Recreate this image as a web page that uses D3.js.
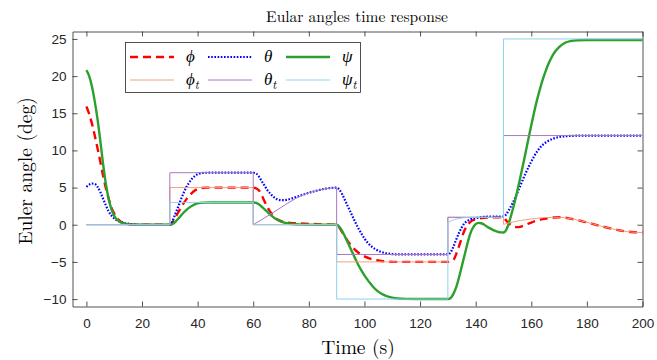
<!DOCTYPE html>
<html><head><meta charset="utf-8">
<script src="https://cdn.jsdelivr.net/npm/d3@7"></script>
<style>
html,body{margin:0;padding:0;background:#fff;}
svg{display:block;}
</style></head>
<body>
<svg id="chart" width="657" height="360"></svg>
<script>
// ---------- data ----------
const xTicks = [0,20,40,60,80,100,120,140,160,180,200];
const yTicks = [-10,-5,0,5,10,15,20,25];

const seriesNames = ["\u03d5","\u03b8","\u03c8"];

// psi (actual, green)
const psiTime = [0,1,2,3,4,5,6,7,8,9,10,11,12,14,17,20,30,
  31,32,33,34,35,36,37,38,39,40,42,45,60,
  61,62,63,64,65,66,67,68,69,70,72,75,78,90,
  91,92,93,94,95,96,97,98,99,100,101,102,103,104,105,106,108,110,112,115,130,
  131,132,133,134,135,136,137,138,139,140,141,142,143,144,145,146,147,148,149,150,
  151,152,153,154,155,156,157,158,159,160,161,162,163,164,165,166,167,168,170,172,174,177,180,200];
const psiVals = [20.8,20.0,18.6,16.6,14.2,11.3,8.2,5.5,3.5,2.1,1.2,0.7,0.4,0.12,0.02,0,0,
  0.1,0.4,0.8,1.25,1.65,2.0,2.3,2.55,2.75,2.88,2.97,3.0,3.0,
  2.95,2.75,2.45,2.1,1.75,1.4,1.1,0.8,0.6,0.42,0.2,0.06,0.01,0,
  -0.3,-0.85,-1.6,-2.4,-3.2,-4.0,-4.8,-5.55,-6.2,-6.8,-7.35,-7.85,-8.3,-8.7,-9.0,-9.25,-9.6,-9.8,-9.92,-9.98,-10,
  -9.85,-9.3,-8.4,-7.1,-5.6,-4.1,-2.6,-1.25,-0.4,0.08,0.25,0.2,0.02,-0.25,-0.45,-0.65,-0.82,-0.95,-1.03,-1.05,
  -0.7,0.3,1.6,3.0,4.6,6.3,8.0,9.8,11.6,13.4,15.1,16.7,18.1,19.4,20.5,21.5,22.3,23.0,23.9,24.45,24.7,24.82,24.85,24.85];

// phi (actual, red dashed)
const phiTime = [0,1,2,3,4,5,6,7,8,9,10,11,12,13,15,18,30,
  31,32,33,34,35,36,37,38,39,40,41,43,60,
  61,62,63,64,65,66,67,68,69,70,72,75,80,85,90,
  91,92,93,94,95,96,97,98,99,100,102,104,106,108,112,130,
  131,132,133,134,135,136,137,138,139,140,142,144,147,150,
  151,152,153,154,155,156,157,158,160,162,164,166,168,170,172,174,176,178,180,182,184,186,188,190,192,194,196,198,200];
const phiVals = [15.9,14.9,13.6,12.0,10.3,8.5,6.6,4.9,3.5,2.3,1.5,0.9,0.5,0.25,0.05,0,0,
  0.35,1.0,1.65,2.3,2.9,3.45,3.9,4.3,4.6,4.8,4.92,5.0,5.0,
  4.9,4.65,4.0,3.2,2.45,1.8,1.3,0.9,0.65,0.48,0.3,0.2,0.12,0.05,0,
  -0.4,-1.0,-1.6,-2.2,-2.7,-3.15,-3.5,-3.8,-4.05,-4.25,-4.55,-4.75,-4.87,-4.95,-5.0,-5.0,
  -4.95,-4.75,-3.95,-2.9,-1.75,-0.75,-0.05,0.35,0.6,0.75,0.9,0.97,1.0,1.0,
  0.55,0.15,-0.12,-0.27,-0.32,-0.28,-0.15,0.0,0.3,0.55,0.75,0.88,0.97,1.0,0.95,0.82,0.67,0.5,0.32,0.12,-0.08,-0.27,-0.45,-0.62,-0.77,-0.9,-0.98,-1.03,-1.05];

// theta (actual, blue dotted)
const thetaTime = [0,1,2,3,4,5,6,7,8,9,10,11,12,14,16,18,20,30,
  31,32,33,34,35,36,37,38,39,40,41,42,44,60,
  61,62,63,64,65,66,67,68,69,70,71,72,74,76,78,80,82,84,86,88,90,
  91,92,93,94,95,96,97,98,99,100,101,102,103,104,105,106,108,110,113,130,
  131,132,133,134,135,136,137,138,140,142,144,147,150,
  151,152,153,154,155,156,157,158,159,160,161,162,163,164,165,166,168,170,172,175,180,200];
const thetaVals = [5.1,5.4,5.55,5.5,5.1,4.4,3.5,2.6,1.8,1.25,0.85,0.6,0.42,0.2,0.08,0.02,0,0,
  0.5,1.5,2.4,3.4,4.3,5.1,5.7,6.2,6.55,6.8,6.92,6.98,7.0,7.0,
  6.9,6.5,5.9,5.3,4.7,4.25,3.85,3.55,3.38,3.3,3.3,3.35,3.55,3.8,4.05,4.3,4.5,4.7,4.85,4.95,5.0,
  4.7,4.1,3.3,2.5,1.7,0.9,0.1,-0.6,-1.25,-1.85,-2.35,-2.75,-3.05,-3.3,-3.5,-3.65,-3.85,-3.95,-4.0,-4.0,
  -3.7,-2.95,-2.0,-1.1,-0.35,0.2,0.5,0.7,0.9,1.02,1.08,1.1,1.1,
  1.4,2.0,2.7,3.45,4.3,5.2,6.1,6.95,7.75,8.5,9.2,9.8,10.3,10.7,11.0,11.25,11.6,11.8,11.9,11.97,12.0,12.0];

// targets
const phiTTime = [0,30,30,60,60,90,90,130,130,150,150,152,154,156,158,160,162,164,166,168,170,172,174,176,178,180,182,184,186,188,190,192,194,196,198,200];
const phiTVals = [0,0,5,5,0,0,-5,-5,1,1,0.05,0.25,0.42,0.56,0.68,0.78,0.87,0.94,0.98,1.0,1.0,0.95,0.82,0.67,0.5,0.32,0.12,-0.08,-0.27,-0.45,-0.62,-0.77,-0.9,-0.98,-1.03,-1.05];
const thetaTTime = [0,30,30,60,60,64,68,72,76,80,84,88,90,90,130,130,150,150,200];
const thetaTVals = [0,0,7,7,0,0.9,1.85,2.8,3.7,4.3,4.7,4.95,5.0,-4,-4,1,1,12,12];
const psiTTime = [0,30,30,60,60,90,90,130,130,132,134,136,138,150,150,200];
const psiTVals = [0,0,3,3,0,0,-10,-10,0.3,0.65,0.85,0.95,1.0,1.0,25,25];

// ---------- chart ----------
const svg = d3.select("#chart");
const x = d3.scaleLinear().domain([-5,200]).range([72.5,642.5]);
const y = d3.scaleLinear().domain([-11,26]).range([306.5,31.5]);
const axisColor = "#262626";
const tickFont = "'Liberation Sans', Arial, Helvetica, sans-serif";
const serif = "'Latin Modern Roman','CMU Serif','Liberation Serif','Times New Roman',serif";

function styleAxis(g){
  g.selectAll("path.domain").attr("stroke",axisColor).attr("stroke-width",0.8);
  g.selectAll(".tick line").attr("stroke",axisColor).attr("stroke-width",0.8);
  g.selectAll(".tick text").attr("fill",axisColor).style("font-family",tickFont).style("font-size","13.5px");
}
svg.append("g").attr("transform",`translate(0,${y.range()[0]})`)
  .call(d3.axisBottom(x).tickValues(xTicks).tickSizeInner(-5).tickSizeOuter(0).tickPadding(12)).call(styleAxis);
svg.append("g").attr("transform",`translate(0,${y.range()[1]})`)
  .call(d3.axisTop(x).tickValues(xTicks).tickSizeInner(-5).tickSizeOuter(0).tickFormat("")).call(styleAxis);
svg.append("g").attr("transform",`translate(${x.range()[0]},0)`)
  .call(d3.axisLeft(y).tickValues(yTicks).tickSizeInner(-5).tickSizeOuter(0).tickPadding(6)).call(styleAxis);
svg.append("g").attr("transform",`translate(${x.range()[1]},0)`)
  .call(d3.axisRight(y).tickValues(yTicks).tickSizeInner(-5).tickSizeOuter(0).tickFormat("")).call(styleAxis);

const plot = svg.append("g");
const smooth = d3.line().x(d=>x(d[0])).y(d=>y(d[1])).curve(d3.curveMonotoneX);
const straight = d3.line().x(d=>x(d[0])).y(d=>y(d[1]));
const zip = (t,v)=>t.map((ti,i)=>[ti,v[i]]);

const styles = {
  phi:   {color:"#ff0000", width:2.4, dash:"8,5"},
  theta: {color:"#0000ff", width:2.2, dash:"1.6,1.6"},
  psi:   {color:"#2ca02c", width:2.4, dash:null},
  phiT:  {color:"#f4a07c", width:1, dash:null},
  thetaT:{color:"#a878c0", width:1, dash:null},
  psiT:  {color:"#8dd3f0", width:1, dash:null}
};
function draw(data, st, gen){
  plot.append("path").datum(data).attr("d",gen)
    .attr("fill","none").attr("stroke",st.color).attr("stroke-width",st.width)
    .attr("stroke-dasharray",st.dash).attr("stroke-linejoin","round");
}
draw(zip(phiTime,phiVals), styles.phi, smooth);
draw(zip(thetaTime,thetaVals), styles.theta, smooth);
draw(zip(psiTime,psiVals), styles.psi, smooth);
draw(zip(phiTTime,phiTVals), styles.phiT, straight);
draw(zip(thetaTTime,thetaTVals), styles.thetaT, straight);
draw(zip(psiTTime,psiTVals), styles.psiT, straight);

// title and labels
svg.append("text").attr("x",357).attr("y",22).attr("text-anchor","middle")
  .style("font-family",serif).style("font-size","15.5px").attr("fill","#000")
  .text("Eular angles time response");
svg.append("text").attr("x",358).attr("y",354).attr("text-anchor","middle")
  .style("font-family",serif).style("font-size","19.5px").attr("fill","#000")
  .text("Time (s)");
svg.append("text").attr("transform","translate(25,171) rotate(-90)").attr("dy","0.35em").attr("text-anchor","middle")
  .style("font-family",serif).style("font-size","19.5px").attr("fill","#000")
  .text("Euler angle (deg)");

// legend
const lg = svg.append("g");
lg.append("rect").attr("x",125.5).attr("y",42.5).attr("width",235).attr("height",50)
  .attr("fill","#fff").attr("stroke",axisColor).attr("stroke-width",0.8);
const legendItems = [
  {key:"phi", label:seriesNames[0], sub:false},
  {key:"theta", label:seriesNames[1], sub:false},
  {key:"psi", label:seriesNames[2], sub:false},
  {key:"phiT", label:seriesNames[0], sub:true},
  {key:"thetaT", label:seriesNames[1], sub:true},
  {key:"psiT", label:seriesNames[2], sub:true}
];
const colX = [130,208,286];
const rowY = [57,80];
legendItems.forEach((it,i)=>{
  const c = i%3, r = Math.floor(i/3);
  const st = styles[it.key];
  lg.append("line").attr("x1",colX[c]).attr("x2",colX[c]+44).attr("y1",rowY[r]).attr("y2",rowY[r])
    .attr("stroke",st.color).attr("stroke-width",st.width).attr("stroke-dasharray",st.dash);
  const t = lg.append("text").attr("x",colX[c]+56).attr("y",rowY[r]+5)
    .style("font-family",serif).style("font-size","17px").style("font-style","italic").attr("fill","#000");
  t.append("tspan").text(it.label);
  if(it.sub) t.append("tspan").attr("dy",4).style("font-size","12px").text("t");
});
</script>
</body></html>
